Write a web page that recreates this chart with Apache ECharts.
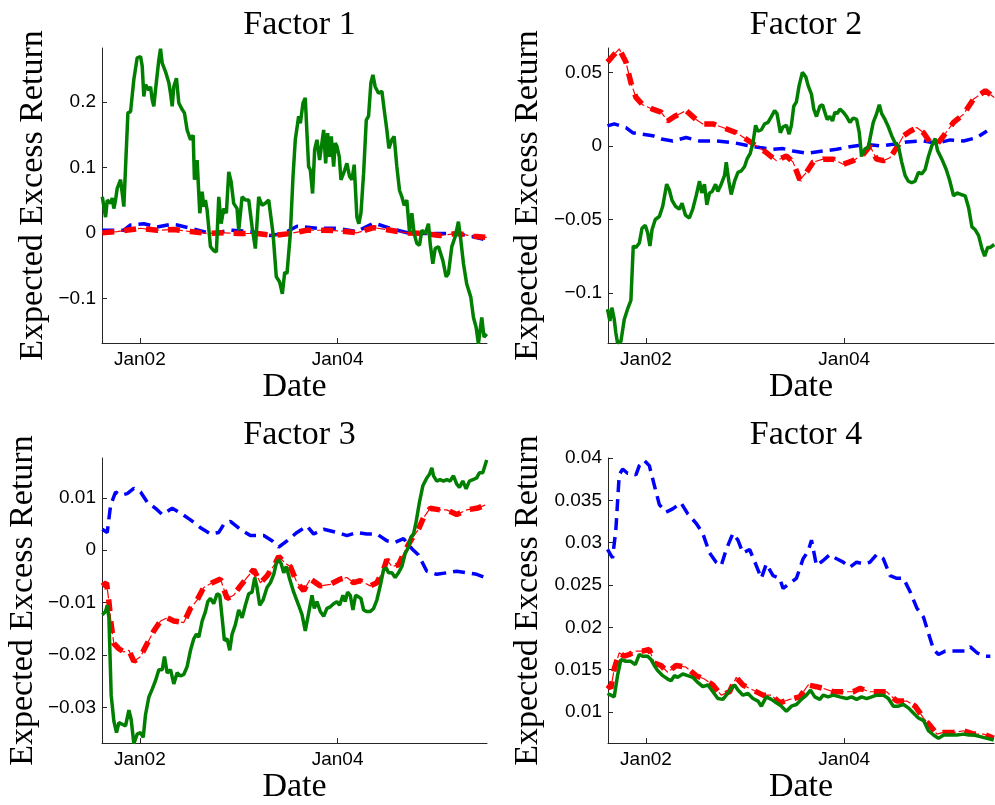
<!DOCTYPE html>
<html>
<head>
<meta charset="utf-8">
<script src="https://cdn.jsdelivr.net/npm/echarts@6/dist/echarts.min.js"></script>
<style>
  html, body { margin: 0; padding: 0; background: #fff; }
  #chart { width: 995px; height: 805px; }
</style>
</head>
<body>
<div id="chart"></div>
<script>
// dates are decimal years, values are expected excess returns
const xTicks = [2002, 2004];
const xTickLabels = ["Jan02", "Jan04"];
const titles = ["Factor 1", "Factor 2", "Factor 3", "Factor 4"];

const yTicks1 = [-0.1, 0, 0.1, 0.2];
const yTicks2 = [-0.1, -0.05, 0, 0.05];
const yTicks3 = [-0.03, -0.02, -0.01, 0, 0.01];
const yTicks4 = [0.01, 0.015, 0.02, 0.025, 0.03, 0.035, 0.04];
const yRanges = [[-0.168, 0.282], [-0.134, 0.0666], [-0.0368, 0.0176], [0.00634, 0.04]];

const f1Green = [[2001.620,0.055],[2001.653,0.024],[2001.670,0.050],[2001.704,0.045],[2001.721,0.053],[2001.737,0.037],[2001.754,0.050],[2001.771,0.068],[2001.805,0.081],[2001.838,0.040],[2001.879,0.183],[2001.906,0.185],[2001.939,0.234],[2001.973,0.267],[2002.007,0.269],[2002.024,0.254],[2002.040,0.208],[2002.057,0.226],[2002.091,0.218],[2002.108,0.223],[2002.125,0.203],[2002.141,0.193],[2002.158,0.218],[2002.192,0.264],[2002.209,0.281],[2002.226,0.259],[2002.259,0.246],[2002.293,0.229],[2002.310,0.213],[2002.327,0.193],[2002.343,0.223],[2002.370,0.236],[2002.394,0.198],[2002.428,0.188],[2002.451,0.183],[2002.478,0.157],[2002.512,0.142],[2002.539,0.149],[2002.552,0.081],[2002.579,0.111],[2002.606,0.030],[2002.630,0.063],[2002.646,0.040],[2002.663,0.050],[2002.680,0.035],[2002.714,-0.021],[2002.747,-0.027],[2002.774,-0.029],[2002.798,0.055],[2002.822,0.014],[2002.848,0.037],[2002.875,0.030],[2002.899,0.093],[2002.923,0.078],[2002.949,0.045],[2002.983,0.037],[2003.000,0.004],[2003.034,0.055],[2003.067,0.050],[2003.101,0.050],[2003.135,0.009],[2003.168,-0.024],[2003.202,0.055],[2003.236,0.042],[2003.269,0.045],[2003.303,0.050],[2003.347,-0.001],[2003.380,-0.067],[2003.414,-0.075],[2003.441,-0.093],[2003.465,-0.060],[2003.488,-0.062],[2003.522,-0.001],[2003.549,0.086],[2003.572,0.142],[2003.606,0.178],[2003.623,0.167],[2003.650,0.198],[2003.673,0.206],[2003.690,0.152],[2003.707,0.101],[2003.724,0.096],[2003.747,0.060],[2003.768,0.127],[2003.791,0.142],[2003.818,0.111],[2003.859,0.157],[2003.879,0.106],[2003.899,0.152],[2003.919,0.116],[2003.936,0.147],[2003.960,0.101],[2003.976,0.137],[2003.993,0.132],[2004.017,0.116],[2004.034,0.081],[2004.061,0.091],[2004.094,0.106],[2004.121,0.086],[2004.145,0.081],[2004.168,0.104],[2004.195,0.024],[2004.215,0.014],[2004.236,0.030],[2004.263,0.091],[2004.290,0.172],[2004.313,0.178],[2004.337,0.229],[2004.357,0.241],[2004.380,0.223],[2004.414,0.213],[2004.448,0.216],[2004.471,0.188],[2004.498,0.157],[2004.519,0.129],[2004.549,0.142],[2004.572,0.147],[2004.599,0.101],[2004.626,0.065],[2004.650,0.055],[2004.673,0.042],[2004.700,0.050],[2004.727,0.002],[2004.751,0.030],[2004.774,-0.001],[2004.801,-0.016],[2004.828,-0.019],[2004.852,0.004],[2004.886,-0.001],[2004.919,0.014],[2004.936,-0.016],[2004.963,-0.047],[2004.987,-0.024],[2005.020,-0.021],[2005.064,-0.042],[2005.098,-0.067],[2005.121,-0.062],[2005.155,-0.021],[2005.189,-0.006],[2005.222,0.017],[2005.246,-0.011],[2005.273,-0.047],[2005.306,-0.078],[2005.347,-0.098],[2005.374,-0.129],[2005.401,-0.144],[2005.424,-0.169],[2005.458,-0.129],[2005.481,-0.159],[2005.508,-0.154]];
const f1Blue = [[2001.620,0.004],[2001.838,0.004],[2001.906,0.012],[2002.040,0.014],[2002.175,0.009],[2002.310,0.013],[2002.377,0.012],[2002.512,0.007],[2002.714,-0.001],[2002.916,0.004],[2003.118,0.002],[2003.320,-0.004],[2003.455,-0.001],[2003.589,0.010],[2003.791,0.007],[2003.993,0.007],[2004.195,0.002],[2004.364,0.015],[2004.532,0.007],[2004.734,-0.001],[2005.003,-0.001],[2005.205,-0.001],[2005.374,-0.006],[2005.508,-0.011]];
const f1Red = [[2001.620,0.000],[2001.771,0.002],[2002.007,0.007],[2002.175,0.004],[2002.343,0.005],[2002.512,0.002],[2002.680,-0.001],[2002.848,0.000],[2003.017,-0.001],[2003.185,-0.001],[2003.354,-0.004],[2003.522,-0.001],[2003.690,0.004],[2003.859,0.004],[2004.027,0.003],[2004.195,0.000],[2004.364,0.008],[2004.532,0.004],[2004.700,0.000],[2004.869,-0.001],[2005.037,-0.004],[2005.205,-0.001],[2005.374,-0.005],[2005.508,-0.007]];

const f2Green = [[2001.612,-0.111],[2001.636,-0.119],[2001.656,-0.110],[2001.680,-0.118],[2001.696,-0.127],[2001.713,-0.134],[2001.747,-0.133],[2001.781,-0.118],[2001.814,-0.111],[2001.848,-0.105],[2001.872,-0.068],[2001.899,-0.069],[2001.933,-0.066],[2001.960,-0.056],[2001.993,-0.054],[2002.017,-0.059],[2002.040,-0.068],[2002.061,-0.057],[2002.094,-0.050],[2002.135,-0.048],[2002.169,-0.041],[2002.209,-0.026],[2002.236,-0.030],[2002.263,-0.037],[2002.297,-0.041],[2002.337,-0.043],[2002.364,-0.039],[2002.398,-0.047],[2002.438,-0.049],[2002.472,-0.043],[2002.506,-0.034],[2002.540,-0.024],[2002.563,-0.032],[2002.590,-0.026],[2002.614,-0.040],[2002.641,-0.032],[2002.668,-0.031],[2002.702,-0.026],[2002.725,-0.031],[2002.759,-0.026],[2002.793,-0.020],[2002.810,-0.011],[2002.836,-0.024],[2002.860,-0.033],[2002.894,-0.024],[2002.928,-0.018],[2002.961,-0.017],[2002.995,-0.014],[2003.019,-0.009],[2003.052,-0.005],[2003.079,0.002],[2003.106,0.014],[2003.130,0.010],[2003.164,0.011],[2003.197,0.015],[2003.231,0.016],[2003.265,0.020],[2003.298,0.024],[2003.322,0.022],[2003.356,0.009],[2003.383,0.013],[2003.417,0.014],[2003.444,0.008],[2003.467,0.014],[2003.491,0.027],[2003.518,0.030],[2003.545,0.041],[2003.578,0.050],[2003.612,0.047],[2003.636,0.041],[2003.670,0.035],[2003.693,0.025],[2003.720,0.020],[2003.754,0.027],[2003.781,0.028],[2003.804,0.023],[2003.828,0.018],[2003.855,0.020],[2003.882,0.017],[2003.906,0.023],[2003.929,0.022],[2003.956,0.025],[2003.990,0.023],[2004.024,0.020],[2004.057,0.016],[2004.091,0.019],[2004.125,0.018],[2004.152,0.009],[2004.175,-0.007],[2004.209,-0.002],[2004.243,-0.001],[2004.266,0.007],[2004.293,0.016],[2004.327,0.022],[2004.354,0.028],[2004.378,0.022],[2004.411,0.018],[2004.445,0.013],[2004.479,0.007],[2004.513,0.002],[2004.546,0.000],[2004.580,-0.011],[2004.614,-0.020],[2004.647,-0.024],[2004.681,-0.025],[2004.715,-0.024],[2004.749,-0.018],[2004.782,-0.019],[2004.816,-0.016],[2004.850,-0.007],[2004.883,0.000],[2004.917,0.005],[2004.941,-0.003],[2004.985,-0.009],[2005.029,-0.016],[2005.062,-0.023],[2005.103,-0.034],[2005.137,-0.032],[2005.177,-0.033],[2005.221,-0.034],[2005.255,-0.042],[2005.288,-0.055],[2005.322,-0.057],[2005.356,-0.061],[2005.390,-0.070],[2005.417,-0.075],[2005.447,-0.069],[2005.474,-0.069],[2005.514,-0.067]];
const f2Blue = [[2001.612,0.0136],[2001.680,0.015],[2001.747,0.0136],[2001.798,0.0125],[2001.865,0.009],[2001.966,0.008],[2002.067,0.007],[2002.169,0.0045],[2002.270,0.0034],[2002.405,0.0057],[2002.540,0.0034],[2002.708,0.0034],[2002.877,0.0023],[2003.012,0.0005],[2003.147,-0.0011],[2003.282,-0.0023],[2003.383,-0.0018],[2003.484,-0.0034],[2003.619,-0.005],[2003.788,-0.0034],[2003.923,-0.0023],[2004.057,-0.0005],[2004.226,0.0011],[2004.361,0.0],[2004.496,0.0011],[2004.631,0.0027],[2004.800,0.0034],[2004.935,0.0018],[2005.069,0.0041],[2005.204,0.0034],[2005.339,0.0057],[2005.440,0.0102]];
const f2Red = [[2001.612,0.057],[2001.663,0.061],[2001.730,0.066],[2001.798,0.057],[2001.848,0.043],[2001.899,0.033],[2001.966,0.028],[2002.067,0.025],[2002.152,0.023],[2002.219,0.017],[2002.287,0.020],[2002.405,0.024],[2002.506,0.018],[2002.573,0.015],[2002.675,0.015],[2002.776,0.0125],[2002.911,0.009],[2003.012,0.0045],[2003.113,0.0],[2003.214,-0.0045],[2003.315,-0.010],[2003.417,-0.0068],[2003.484,-0.011],[2003.552,-0.023],[2003.619,-0.018],[2003.687,-0.011],[2003.788,-0.009],[2003.889,-0.009],[2003.990,-0.0125],[2004.091,-0.010],[2004.192,-0.0057],[2004.260,0.0],[2004.327,-0.009],[2004.395,-0.010],[2004.462,-0.008],[2004.530,-0.0011],[2004.597,0.0068],[2004.665,0.010],[2004.732,0.0125],[2004.800,0.009],[2004.867,0.0023],[2004.935,0.0011],[2005.002,0.0068],[2005.103,0.016],[2005.204,0.0216],[2005.306,0.032],[2005.424,0.0375],[2005.514,0.033]];

const f3Green = [[2001.620,-0.0123],[2001.653,-0.0117],[2001.670,-0.0105],[2001.687,-0.0129],[2001.710,-0.0277],[2001.737,-0.0326],[2001.764,-0.0348],[2001.788,-0.0329],[2001.822,-0.0332],[2001.855,-0.0335],[2001.889,-0.0305],[2001.912,-0.0323],[2001.939,-0.0369],[2001.973,-0.0351],[2002.007,-0.0348],[2002.034,-0.0357],[2002.057,-0.0314],[2002.091,-0.028],[2002.125,-0.0265],[2002.158,-0.0249],[2002.192,-0.0228],[2002.226,-0.0228],[2002.249,-0.0203],[2002.276,-0.0234],[2002.310,-0.0228],[2002.343,-0.0255],[2002.377,-0.0234],[2002.411,-0.024],[2002.444,-0.0237],[2002.478,-0.0222],[2002.512,-0.0191],[2002.545,-0.0169],[2002.572,-0.016],[2002.596,-0.0166],[2002.630,-0.0135],[2002.663,-0.0117],[2002.687,-0.0098],[2002.714,-0.0092],[2002.747,-0.0102],[2002.781,-0.0083],[2002.808,-0.0086],[2002.832,-0.0129],[2002.855,-0.0172],[2002.882,-0.0169],[2002.909,-0.0191],[2002.933,-0.016],[2002.966,-0.0142],[2003.000,-0.0114],[2003.034,-0.0129],[2003.067,-0.0105],[2003.101,-0.0083],[2003.135,-0.008],[2003.162,-0.0052],[2003.185,-0.0071],[2003.212,-0.0105],[2003.246,-0.0095],[2003.286,-0.0071],[2003.320,-0.0062],[2003.354,-0.0046],[2003.380,-0.0025],[2003.404,-0.0018],[2003.428,-0.0025],[2003.455,-0.0043],[2003.481,-0.0031],[2003.515,-0.0055],[2003.556,-0.008],[2003.606,-0.0105],[2003.640,-0.0123],[2003.673,-0.0154],[2003.707,-0.012],[2003.741,-0.0086],[2003.764,-0.0111],[2003.791,-0.0098],[2003.825,-0.0117],[2003.859,-0.0126],[2003.892,-0.0111],[2003.926,-0.0108],[2003.960,-0.0102],[2003.993,-0.0098],[2004.020,-0.0105],[2004.054,-0.0086],[2004.077,-0.0098],[2004.101,-0.008],[2004.128,-0.0086],[2004.155,-0.0114],[2004.182,-0.0086],[2004.212,-0.0089],[2004.236,-0.0092],[2004.263,-0.0114],[2004.296,-0.0117],[2004.330,-0.0117],[2004.364,-0.0111],[2004.397,-0.0095],[2004.431,-0.0068],[2004.465,-0.0037],[2004.492,-0.0034],[2004.515,-0.0043],[2004.549,-0.0043],[2004.582,-0.0052],[2004.616,-0.0043],[2004.650,-0.0031],[2004.684,-0.0006],[2004.717,0.0006],[2004.741,0.0025],[2004.768,0.0031],[2004.795,0.0055],[2004.828,0.0092],[2004.862,0.0123],[2004.902,0.0138],[2004.929,0.0145],[2004.953,0.0157],[2004.970,0.0142],[2005.003,0.0132],[2005.037,0.0135],[2005.071,0.0132],[2005.104,0.0135],[2005.138,0.0132],[2005.172,0.0142],[2005.205,0.0126],[2005.232,0.012],[2005.266,0.0132],[2005.300,0.0117],[2005.333,0.0132],[2005.374,0.0135],[2005.407,0.0138],[2005.434,0.0148],[2005.468,0.0148],[2005.508,0.0172]];
const f3Blue = [[2001.620,0.004],[2001.670,0.0034],[2001.704,0.0086],[2001.754,0.0111],[2001.805,0.0105],[2001.872,0.0108],[2001.939,0.0118],[2002.007,0.0111],[2002.074,0.0092],[2002.158,0.008],[2002.226,0.0068],[2002.327,0.008],[2002.411,0.0071],[2002.512,0.0058],[2002.613,0.0043],[2002.714,0.0031],[2002.798,0.0034],[2002.848,0.0049],[2002.916,0.0055],[2003.017,0.004],[2003.118,0.0028],[2003.253,0.0028],[2003.337,0.0018],[2003.404,0.0006],[2003.488,0.0018],[2003.589,0.0034],[2003.690,0.0046],[2003.758,0.0031],[2003.859,0.004],[2003.993,0.0034],[2004.094,0.0028],[2004.195,0.0034],[2004.296,0.0031],[2004.397,0.0031],[2004.498,0.0018],[2004.582,0.0015],[2004.667,0.0022],[2004.751,0.0003],[2004.818,-0.0009],[2004.902,-0.004],[2005.003,-0.0046],[2005.104,-0.0043],[2005.205,-0.004],[2005.306,-0.0043],[2005.407,-0.0046],[2005.492,-0.0052]];
const f3Red = [[2001.620,-0.0068],[2001.663,-0.0062],[2001.687,-0.0098],[2001.710,-0.0142],[2001.737,-0.0178],[2001.788,-0.0188],[2001.838,-0.0194],[2001.889,-0.0191],[2001.939,-0.0212],[2002.007,-0.0203],[2002.074,-0.0178],[2002.141,-0.0154],[2002.209,-0.0135],[2002.276,-0.0129],[2002.343,-0.0135],[2002.444,-0.0138],[2002.512,-0.0111],[2002.579,-0.0095],[2002.646,-0.0071],[2002.731,-0.0062],[2002.815,-0.0055],[2002.882,-0.0092],[2002.949,-0.0086],[2003.017,-0.0068],[2003.084,-0.0052],[2003.152,-0.0037],[2003.219,-0.0062],[2003.286,-0.0049],[2003.370,-0.0025],[2003.404,-0.0012],[2003.471,-0.0025],[2003.522,-0.0031],[2003.589,-0.0062],[2003.657,-0.0077],[2003.724,-0.0055],[2003.825,-0.0068],[2003.926,-0.0065],[2004.027,-0.0055],[2004.094,-0.0052],[2004.162,-0.0062],[2004.229,-0.0058],[2004.330,-0.0068],[2004.397,-0.0062],[2004.465,-0.0037],[2004.498,-0.0018],[2004.549,-0.0031],[2004.616,-0.0028],[2004.684,0.0],[2004.751,0.0022],[2004.818,0.004],[2004.869,0.0062],[2004.936,0.008],[2005.037,0.0077],[2005.104,0.0077],[2005.205,0.0068],[2005.306,0.0077],[2005.407,0.008],[2005.492,0.0086]];

const f4Green = [[2001.612,0.0122],[2001.646,0.012],[2001.680,0.0118],[2001.713,0.0143],[2001.747,0.0162],[2001.798,0.016],[2001.848,0.016],[2001.892,0.0156],[2001.933,0.0168],[2001.966,0.0166],[2002.017,0.0166],[2002.051,0.0162],[2002.084,0.0155],[2002.118,0.0149],[2002.169,0.0143],[2002.219,0.0139],[2002.253,0.0137],[2002.287,0.0143],[2002.320,0.0141],[2002.371,0.0145],[2002.422,0.0143],[2002.472,0.0141],[2002.523,0.0135],[2002.573,0.013],[2002.624,0.0132],[2002.675,0.0124],[2002.725,0.0116],[2002.776,0.0115],[2002.810,0.012],[2002.860,0.0128],[2002.894,0.0132],[2002.928,0.0126],[2002.978,0.012],[2003.029,0.0122],[2003.079,0.0116],[2003.130,0.0113],[2003.164,0.0107],[2003.214,0.0118],[2003.265,0.0115],[2003.315,0.0111],[2003.366,0.0107],[2003.417,0.0101],[2003.467,0.0107],[2003.518,0.0109],[2003.568,0.0115],[2003.619,0.012],[2003.660,0.0126],[2003.703,0.0118],[2003.754,0.0115],[2003.788,0.012],[2003.838,0.0118],[2003.889,0.012],[2003.956,0.0118],[2004.024,0.0116],[2004.074,0.0118],[2004.125,0.0115],[2004.175,0.0118],[2004.226,0.0116],[2004.277,0.0118],[2004.327,0.012],[2004.395,0.012],[2004.445,0.0116],[2004.496,0.0107],[2004.546,0.0107],[2004.597,0.0109],[2004.647,0.0105],[2004.698,0.0099],[2004.749,0.0093],[2004.800,0.009],[2004.850,0.0078],[2004.901,0.0073],[2004.951,0.0069],[2005.002,0.0073],[2005.069,0.0073],[2005.137,0.0073],[2005.204,0.0074],[2005.255,0.0073],[2005.306,0.0073],[2005.373,0.0071],[2005.440,0.0069],[2005.508,0.0067]];
const f4Blue = [[2001.612,0.0292],[2001.663,0.0282],[2001.696,0.0315],[2001.730,0.038],[2001.764,0.0387],[2001.814,0.0382],[2001.865,0.0382],[2001.899,0.038],[2001.933,0.0391],[2001.983,0.0397],[2002.034,0.0391],[2002.084,0.0368],[2002.135,0.0345],[2002.202,0.0336],[2002.270,0.034],[2002.354,0.0347],[2002.422,0.0334],[2002.506,0.0323],[2002.573,0.0311],[2002.641,0.0288],[2002.708,0.0277],[2002.759,0.0273],[2002.810,0.0292],[2002.877,0.0311],[2002.928,0.0303],[2002.978,0.0288],[2003.046,0.0292],[2003.113,0.0273],[2003.164,0.0258],[2003.214,0.0275],[2003.282,0.0261],[2003.349,0.0258],[2003.383,0.0246],[2003.450,0.0252],[2003.518,0.0258],[2003.585,0.0281],[2003.636,0.029],[2003.670,0.0303],[2003.720,0.0273],[2003.788,0.0279],[2003.855,0.0286],[2003.923,0.0281],[2003.990,0.0277],[2004.057,0.0271],[2004.125,0.0277],[2004.192,0.0275],[2004.260,0.0277],[2004.327,0.0286],[2004.395,0.0281],[2004.462,0.0261],[2004.530,0.0258],[2004.597,0.0258],[2004.665,0.0242],[2004.732,0.0223],[2004.800,0.0212],[2004.850,0.0193],[2004.901,0.0174],[2004.951,0.0168],[2005.019,0.0172],[2005.086,0.0172],[2005.154,0.0172],[2005.221,0.0172],[2005.272,0.0177],[2005.339,0.017],[2005.424,0.0166],[2005.474,0.0166]];
const f4Red = [[2001.612,0.0132],[2001.646,0.0128],[2001.680,0.0151],[2001.730,0.017],[2001.781,0.0166],[2001.831,0.0168],[2001.899,0.0172],[2001.966,0.0172],[2002.034,0.0174],[2002.084,0.0158],[2002.152,0.0155],[2002.219,0.0147],[2002.304,0.0155],[2002.405,0.0153],[2002.506,0.0143],[2002.590,0.0139],[2002.675,0.0132],[2002.759,0.012],[2002.843,0.0124],[2002.911,0.0141],[2002.978,0.0132],[2003.079,0.0126],[2003.181,0.012],[2003.265,0.012],[2003.349,0.0111],[2003.450,0.0115],[2003.552,0.0118],[2003.636,0.0132],[2003.720,0.013],[2003.788,0.0128],[2003.889,0.0124],[2003.990,0.0124],[2004.091,0.0124],[2004.159,0.0128],[2004.260,0.0124],[2004.361,0.0124],[2004.428,0.0124],[2004.530,0.0113],[2004.631,0.0113],[2004.715,0.0107],[2004.800,0.0093],[2004.867,0.0084],[2004.935,0.0074],[2005.002,0.0076],[2005.103,0.0076],[2005.204,0.0078],[2005.306,0.0074],[2005.407,0.0074],[2005.508,0.0069]];

const panels = [
  { green: f1Green, blue: f1Blue, red: f1Red, yTicks: yTicks1 },
  { green: f2Green, blue: f2Blue, red: f2Red, yTicks: yTicks2 },
  { green: f3Green, blue: f3Blue, red: f3Red, yTicks: yTicks3 },
  { green: f4Green, blue: f4Blue, red: f4Red, yTicks: yTicks4 },
];

const serif = "Liberation Serif";
const sans = "Liberation Sans";
const axisColor = "#262626";

// plot boxes: [left, top, width, height]
const boxes = [
  [102, 48, 385, 295],
  [608, 48, 386, 295],
  [102, 458, 385, 295],
  [608, 458, 386, 295],
];
const yNameGaps = [52, 63, 62, 63];

function fmtY(v) {
  const s = String(parseFloat(Math.abs(v).toFixed(6)));
  return v < 0 ? "\u2212" + s : s;
}

const grid = [];
const xAxis = [];
const yAxis = [];
const series = [];
const title = [];

panels.forEach(function (p, i) {
  const b = boxes[i];
  grid.push({ left: b[0], top: b[1], width: b[2], height: b[3] });
  title.push({
    text: titles[i],
    left: b[0] + b[2] / 2,
    top: b[1] - 45,
    textAlign: "center",
    textStyle: { fontFamily: serif, fontSize: 34, fontWeight: "normal", color: "#000" },
  });
  xAxis.push({
    type: "value",
    gridIndex: i,
    min: 2001.617,
    max: 2005.511,
    name: "Date",
    nameLocation: "middle",
    nameGap: 14,
    nameTextStyle: { fontFamily: serif, fontSize: 34, color: "#000" },
    axisLine: { show: true, onZero: false, lineStyle: { color: axisColor, width: 1 } },
    axisTick: { show: true, inside: true, length: 5, customValues: xTicks, lineStyle: { color: axisColor } },
    axisLabel: {
      customValues: xTicks,
      margin: 7,
      fontFamily: sans,
      fontSize: 19,
      color: "#000",
      formatter: function (v) { return xTickLabels[xTicks.indexOf(v)]; },
    },
    splitLine: { show: false },
  });
  yAxis.push({
    type: "value",
    gridIndex: i,
    min: yRanges[i][0],
    max: yRanges[i][1],
    name: "Expected Excess Return",
    nameLocation: "middle",
    nameGap: yNameGaps[i],
    nameTextStyle: { fontFamily: serif, fontSize: 34, color: "#000" },
    axisLine: { show: true, onZero: false, lineStyle: { color: axisColor, width: 1 } },
    axisTick: { show: true, inside: true, length: 5, customValues: p.yTicks, lineStyle: { color: axisColor } },
    axisLabel: {
      customValues: p.yTicks,
      margin: 6,
      fontFamily: sans,
      fontSize: 19,
      color: "#000",
      formatter: fmtY,
    },
    splitLine: { show: false },
  });
  series.push({
    type: "line", xAxisIndex: i, yAxisIndex: i, data: p.blue,
    symbol: "none", lineStyle: { color: "#0000ff", width: 3.5, type: [12, 7] }, z: 2,
  });
  series.push({
    type: "line", xAxisIndex: i, yAxisIndex: i, data: p.red,
    symbol: "none", lineStyle: { color: "#ff0000", width: 1.2, type: [9, 3] }, z: 3,
  });
  series.push({
    type: "line", xAxisIndex: i, yAxisIndex: i, data: p.red,
    symbol: "none", lineStyle: { color: "#ff0000", width: 5.5, type: [12, 10] }, z: 3,
  });
  series.push({
    type: "line", xAxisIndex: i, yAxisIndex: i, data: p.green,
    symbol: "none", lineStyle: { color: "#007f00", width: 3.5 }, z: 4,
  });
});

const chart = echarts.init(document.getElementById("chart"));
chart.setOption({
  animation: false,
  backgroundColor: "#fff",
  title: title,
  grid: grid,
  xAxis: xAxis,
  yAxis: yAxis,
  series: series,
});
</script>
</body>
</html>
